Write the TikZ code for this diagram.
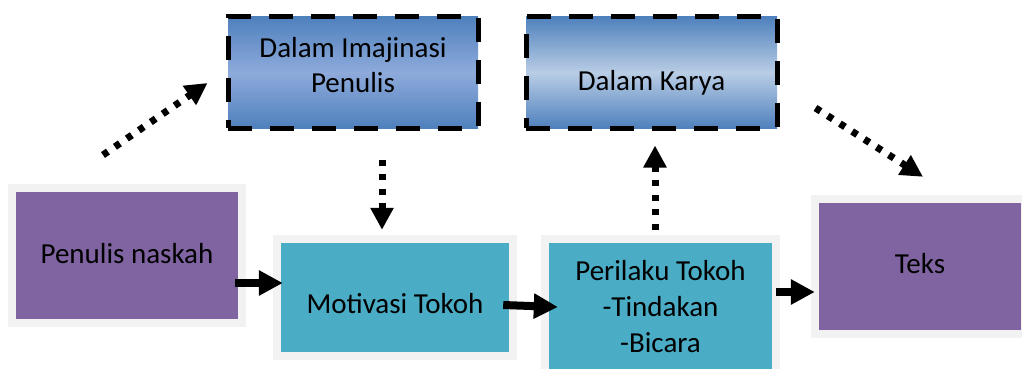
\documentclass[tikz,border=0pt]{standalone}
\usepackage{fontspec}
\setmainfont{Carlito}
\usetikzlibrary{arrows.meta,calc}
\definecolor{purp}{HTML}{8064A2}
\definecolor{tealbox}{HTML}{4BACC6}
\definecolor{framegray}{HTML}{F2F2F2}
\definecolor{blueedge}{HTML}{4F81BD}
\definecolor{bluemidA}{HTML}{8EAADB}
\definecolor{bluemidB}{HTML}{B9CDE5}
\newcommand{\txtdrop}[2]{\raisebox{-#1pt}{#2}}
\begin{document}
\begin{tikzpicture}[x=1pt,y=-1pt,
  every node/.style={font=\fontsize{29}{36}\selectfont, inner sep=0pt, text height=0pt, text depth=0pt},
  framed/.style={preaction={draw=framegray, line width=16pt}},
  purpbox/.style={framed, fill=purp},
  cyanbox/.style={framed, fill=tealbox},
  ideabox/.style={draw=black, line width=5pt, dash pattern=on 24pt off 18pt,
     top color=blueedge, bottom color=blueedge},
  bigarrow/.style={line width=8pt, -{Triangle[length=24pt,width=24pt]}},
  dotarrow/.style={line width=7pt, dash pattern=on 6pt off 8.5pt, -{Triangle[length=22pt,width=22pt]}}
]
\useasboundingbox (0,0) rectangle (1022,369);

\node[purpbox, minimum width=222pt, minimum height=127pt] (penulis) at (127,255.5)
  {\txtdrop{7.5}{Penulis naskah}};
\node[cyanbox, minimum width=228pt, minimum height=109pt] (motivasi) at (395,297.5)
  {\txtdrop{15.5}{Motivasi Tokoh}};
\node[cyanbox, minimum width=223pt, minimum height=130pt] (perilaku) at (660.5,308)
  {\raisebox{28pt}{\begin{tabular}[t]{@{}c@{}}Perilaku Tokoh\\-Tindakan\\-Bicara\end{tabular}}};
\node[purpbox, minimum width=202pt, minimum height=127pt] (teks) at (920,266.5)
  {\txtdrop{6.5}{Teks}};

\node[ideabox, middle color=bluemidA, minimum width=250pt, minimum height=111pt] (imaj) at (353,72.5)
  {\raisebox{15.5pt}{\begin{tabular}[t]{@{}c@{}}Dalam Imajinasi\\Penulis\end{tabular}}};
\node[ideabox, middle color=bluemidB, minimum width=251pt, minimum height=111pt] (karya) at (651.5,72.5)
  {\txtdrop{17.5}{Dalam Karya}};

\draw[bigarrow] ($(penulis.east)+(-3,27.5)$) -- ($(motivasi.west)+(2,-14.5)$);
\draw[bigarrow] ($(motivasi.east)+(-6,7.5)$) -- ($(perilaku.west)+(9,-1)$);
\draw[bigarrow] ($(perilaku.east)+(4,-16)$) -- ($(teks.west)+(-4,25.5)$);

\coordinate (d1s) at (103,155);
\draw[dotarrow] (d1s) -- ($(imaj.west)+(-18,10.5)$);
\draw[dotarrow] ($(imaj.south)+(29,29)$) -- ($(motivasi.north)+(-13,-13)$);
\draw[dotarrow] ($(perilaku.north)+(-5.5,-13)$) -- ($(karya.south)+(3.5,15)$);
\draw[dotarrow] ($(karya.east)+(36,35.5)$) -- ($(teks.north)+(3,-26)$);
\end{tikzpicture}
\end{document}
